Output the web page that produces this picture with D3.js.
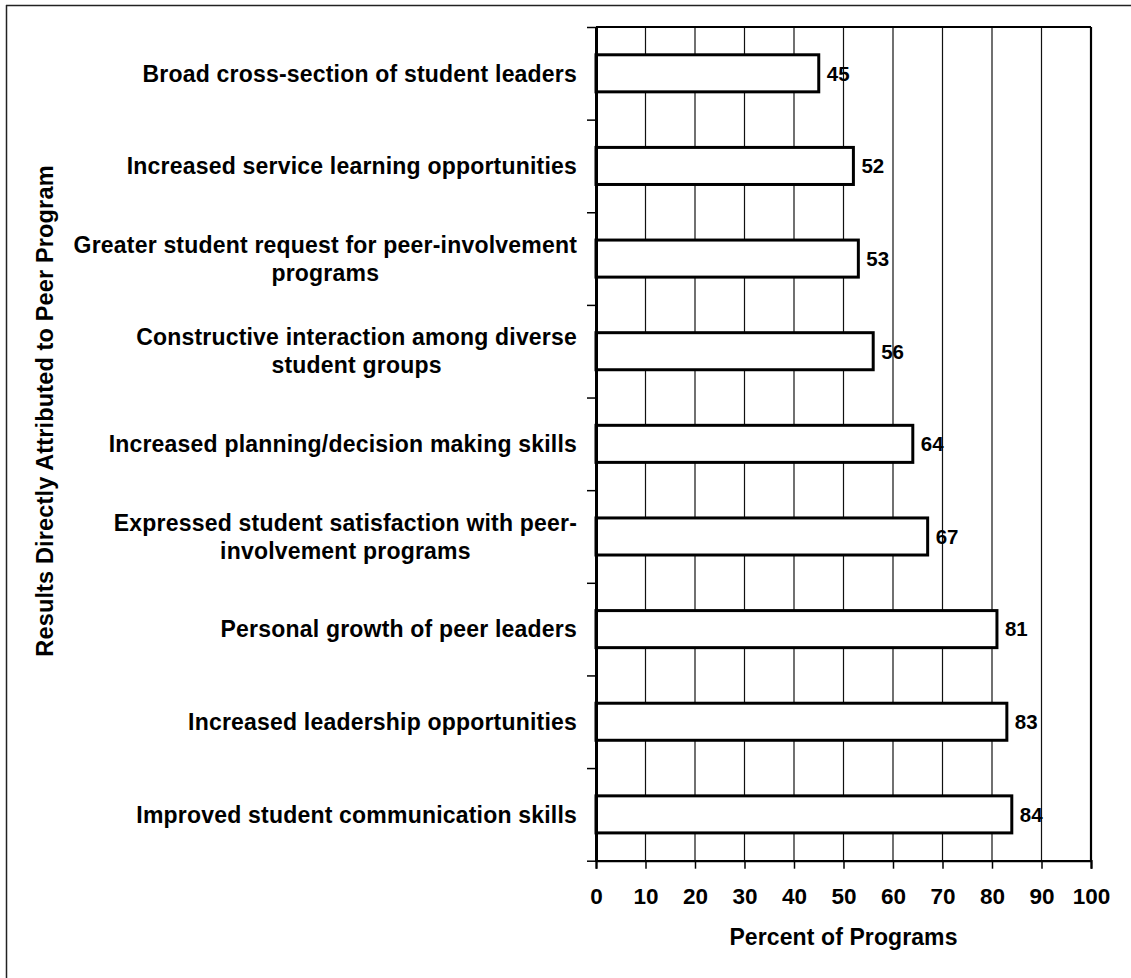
<!DOCTYPE html>
<html>
<head>
<meta charset="utf-8">
<script src="https://cdn.jsdelivr.net/npm/d3@7"></script>
<style>
  html, body { margin: 0; padding: 0; background: #fff; }
  svg { display: block; }
  text { font-family: "Liberation Sans", Arial, Helvetica, sans-serif; font-weight: bold; fill: #000; }
</style>
</head>
<body>
<svg id="chart" width="1131" height="978"></svg>
<script>
// ---- data ----
const categories = [
  "Broad cross-section of student leaders",
  "Increased service learning opportunities",
  "Greater student request for peer-involvement programs",
  "Constructive interaction among diverse student groups",
  "Increased planning/decision making skills",
  "Expressed student satisfaction with peer-involvement programs",
  "Personal growth of peer leaders",
  "Increased leadership opportunities",
  "Improved student communication skills"
];
const labelLines = [
  ["Broad cross-section of student leaders"],
  ["Increased service learning opportunities"],
  ["Greater student request for peer-involvement", "programs"],
  ["Constructive interaction among diverse", "student groups"],
  ["Increased planning/decision making skills"],
  ["Expressed student satisfaction with peer-", "involvement programs"],
  ["Personal growth of peer leaders"],
  ["Increased leadership opportunities"],
  ["Improved student communication skills"]
];
const values = [45, 52, 53, 56, 64, 67, 81, 83, 84];
const xTicks = [0, 10, 20, 30, 40, 50, 60, 70, 80, 90, 100];
const xTitle = "Percent of Programs";
const yTitle = "Results Directly Attributed to Peer Program";

(function () {
// ---- layout ----
const svg = d3.select("#chart");
const pL = 596, pR = 1091, pT = 27, pB = 860.7;

// outer frame (right/bottom off-image)
svg.append("line").attr("x1", 6.5).attr("x2", 6.5).attr("y1", 5).attr("y2", 978)
  .attr("stroke", "#222").attr("stroke-width", 1.5);
svg.append("line").attr("x1", 6).attr("x2", 1131).attr("y1", 5.5).attr("y2", 5.5)
  .attr("stroke", "#222").attr("stroke-width", 1.5);

const x = d3.scaleLinear().domain([0, 100]).range([pL, pR]);
const y = d3.scaleBand().domain(categories).range([pT, pB])
  .paddingInner(0.6).paddingOuter(0.3);
const yB = d3.scaleLinear().domain([0, categories.length]).range([pT, pB]);

// gridlines
svg.append("g").selectAll("line").data(xTicks.filter(d => d > 0 && d < 100)).join("line")
  .attr("x1", d => x(d)).attr("x2", d => x(d))
  .attr("y1", pT).attr("y2", pB)
  .attr("stroke", "#111").attr("stroke-width", 1.2);

// plot border top & right
svg.append("line").attr("x1", pL).attr("x2", pR).attr("y1", pT).attr("y2", pT)
  .attr("stroke", "#000").attr("stroke-width", 2.2);
svg.append("line").attr("x1", pR).attr("x2", pR).attr("y1", pT).attr("y2", pB)
  .attr("stroke", "#000").attr("stroke-width", 2.2);

// bars
svg.append("g").selectAll("rect").data(values).join("rect")
  .attr("x", x(0))
  .attr("y", (d, i) => y(categories[i]))
  .attr("width", d => x(d) - x(0))
  .attr("height", y.bandwidth())
  .attr("fill", "#fff").attr("stroke", "#000").attr("stroke-width", 3);

// value labels
svg.append("g").selectAll("text").data(values).join("text")
  .attr("x", d => x(d) + 8)
  .attr("y", (d, i) => y(categories[i]) + y.bandwidth() / 2)
  .attr("dy", "0.36em")
  .style("font-size", "20.5px")
  .text(d => d);

// x axis
const xAxis = svg.append("g").attr("transform", `translate(0,${pB})`)
  .call(d3.axisBottom(x).tickValues(xTicks).tickSize(8).tickPadding(19).tickFormat(d3.format("d")));
xAxis.select(".domain").attr("stroke", "#000").attr("stroke-width", 2.2);
xAxis.selectAll(".tick line").attr("stroke", "#000").attr("stroke-width", 1.5);
xAxis.selectAll(".tick text").style("font-size", "22.5px")
  .attr("font-family", null).attr("fill", "#000");

// y axis (band boundary ticks)
const yAxis = svg.append("g").attr("transform", `translate(${pL},0)`)
  .call(d3.axisLeft(yB).tickValues(d3.range(0, categories.length + 1)).tickSize(9).tickSizeOuter(0).tickFormat(""));
yAxis.select(".domain").attr("stroke", "#000").attr("stroke-width", 3);
yAxis.selectAll(".tick line").attr("stroke", "#000").attr("stroke-width", 1.5);

// category labels
const labelRight = 577;
const lblG = svg.append("g");
labelLines.forEach((lines, i) => {
  const cy = y(categories[i]) + y.bandwidth() / 2;
  const g = lblG.append("g");
  const n = lines.length;
  const texts = lines.map((ln, k) => g.append("text")
    .attr("y", cy + (k - (n - 1) / 2) * 28)
    .attr("dy", "0.36em")
    .style("font-size", "23px")
    .style("letter-spacing", "0.2px")
    .text(ln));
  const widths = texts.map(t => t.node().getComputedTextLength());
  const maxW = d3.max(widths);
  texts.forEach(t => t.attr("x", labelRight - maxW / 2).attr("text-anchor", "middle"));
});

// axis titles
svg.append("text")
  .attr("x", (pL + pR) / 2).attr("y", 945)
  .attr("text-anchor", "middle")
  .style("font-size", "23px").style("letter-spacing", "0.1px")
  .text(xTitle);

svg.append("text")
  .attr("transform", "translate(53,411) rotate(-90)")
  .attr("text-anchor", "middle")
  .style("font-size", "23.5px").style("letter-spacing", "0.15px")
  .text(yTitle);
})();
</script>
</body>
</html>
